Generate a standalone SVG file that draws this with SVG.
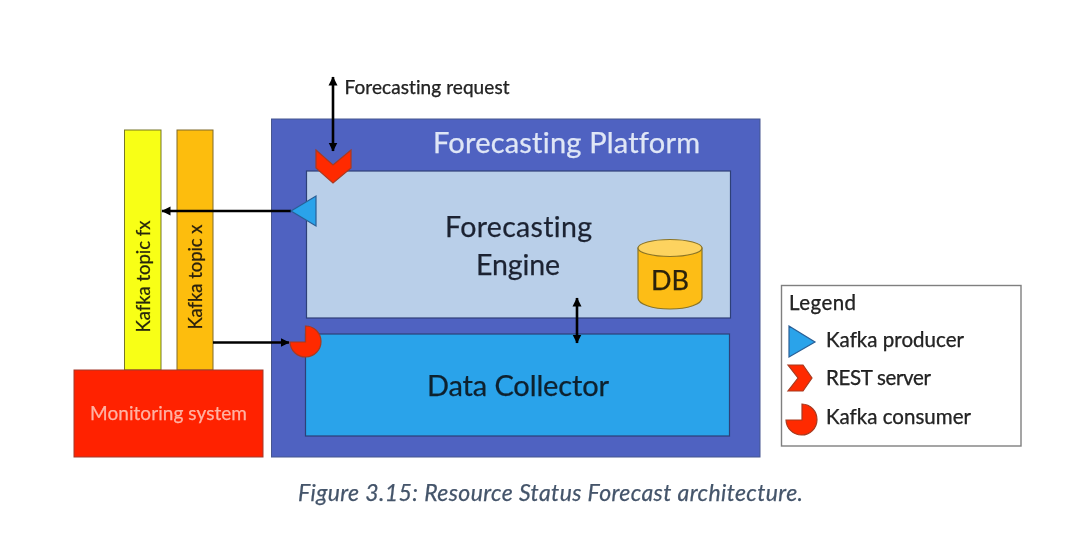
<svg xmlns="http://www.w3.org/2000/svg" width="1067" height="539" viewBox="0 0 1067 539">
<style>
text{font-family:Lato,"Open Sans","Liberation Sans",sans-serif;fill:#262626;font-variant-ligatures:none;stroke:currentColor;stroke-width:.25}
.box{stroke:#2f3f78;stroke-width:1.2}
.red{fill:#ff2a00;stroke:#a83a20;stroke-width:1.2}
.blue{fill:#29a3ea;stroke:#2a5f96;stroke-width:1.2}
.wire{fill:none;stroke:#000;stroke-width:2.6}
</style>
<defs>
<marker id="ah" markerUnits="userSpaceOnUse" markerWidth="11" markerHeight="11" refX="8.500" refY="5.500" orient="auto-start-reverse"><path d="M0 1L9 5.500L0 10z" fill="#000"/></marker>
<filter id="soft" x="-2%" y="-2%" width="104%" height="104%"><feGaussianBlur stdDeviation="0.6"/></filter>
</defs>
<rect width="1067" height="539" fill="#fff"/>
<g filter="url(#soft)">
<g id="platform"><rect x="271.500" y="119" width="488.500" height="338" fill="#4f62c1" stroke="#46578f" stroke-width="1"/>
<text x="433" y="153" font-size="29" textLength="267" color="#dfe6f6" style="fill:#dfe6f6">Forecasting Platform</text></g>
<g id="engine"><rect class="box" x="306.500" y="171" width="424" height="147" fill="#b9cfe9"/>
<text x="445" y="237" font-size="28.500" textLength="147" color="#1d2433" style="fill:#1d2433">Forecasting</text>
<text x="476" y="275" font-size="28.500" textLength="84" color="#1d2433" style="fill:#1d2433">Engine</text></g>
<g id="db"><path d="M638 248V298C638 304 652 309 670 309S702 304 702 298V248z" fill="#fdbd12" stroke="#8a7428" stroke-width="1.200"/>
<ellipse cx="670" cy="248" rx="32" ry="8.500" fill="#fdd35e" stroke="#8a7428" stroke-width="1.200"/>
<text x="670" y="290" font-size="27" text-anchor="middle" color="#2b2108" style="fill:#2b2108">DB</text></g>
<g id="collector"><rect class="box" x="305.500" y="334" width="424" height="102" fill="#29a3ea"/>
<text x="427" y="396" font-size="29" textLength="182" color="#10202e" style="fill:#10202e">Data Collector</text></g>
<g id="topic-fx"><rect x="124.500" y="130" width="36.500" height="240" fill="#f8ff12" stroke="#77772a" stroke-width="1"/>
<text transform="translate(150,332.500) rotate(-90)" font-size="18.500" textLength="112" color="#27270a" style="fill:#27270a">Kafka topic fx</text></g>
<g id="topic-x"><rect x="177" y="130" width="36" height="240" fill="#fdbd0c" stroke="#806a28" stroke-width="1"/>
<text transform="translate(202,329.500) rotate(-90)" font-size="18.500" textLength="105" color="#2b2108" style="fill:#2b2108">Kafka topic x</text></g>
<g id="monitoring"><rect x="74" y="370" width="189" height="87" fill="#ff2200" stroke="#a33a2a" stroke-width="1"/>
<text x="90" y="420" font-size="19" textLength="157" color="#ffb3a3" style="fill:#ffb3a3">Monitoring system</text></g>
<g id="connectors">
<path class="wire" d="M333 77V151" marker-start="url(#ah)" marker-end="url(#ah)"/>
<path class="wire" d="M291 211H162" marker-end="url(#ah)"/>
<path class="wire" d="M213 342.500H289" marker-end="url(#ah)"/>
<path class="wire" d="M577 298V343" marker-start="url(#ah)" marker-end="url(#ah)"/>
</g>
<g id="rest-server"><path class="red" d="M316 150L333 165L351 150V168L333 183L316 168z"/></g>
<g id="kafka-producer"><path class="blue" d="M291 211L316 196V226z"/></g>
<g id="kafka-consumer"><path class="red" d="M305.500 326A15.500 15.500 0 1 1 290 342H305.500z"/></g>
<g id="legend"><rect x="781.500" y="285.500" width="239.500" height="160.500" fill="#fff" stroke="#7f7f7f" stroke-width="1.400"/>
<text x="789" y="310" font-size="20.500" textLength="67">Legend</text>
<path class="blue" d="M789 326L815 342L789 357z"/>
<text x="826" y="347" font-size="20.500" textLength="138">Kafka producer</text>
<path class="red" d="M788 365H803L812 378L803 391H788L798 378z"/>
<text x="826" y="385" font-size="20.500" textLength="105">REST server</text>
<path class="red" d="M802 404A15.500 15.500 0 1 1 786 420H802z"/>
<text x="826" y="424" font-size="20.500" textLength="145">Kafka consumer</text></g>
<g id="caption"><text x="298" y="501" font-size="23" font-style="italic" textLength="505" color="#44546a" style="fill:#44546a">Figure 3.15: Resource Status Forecast architecture.</text></g>
<g id="request-label"><text x="344.500" y="93.500" font-size="19" textLength="165">Forecasting request</text></g>
</g>
</svg>
